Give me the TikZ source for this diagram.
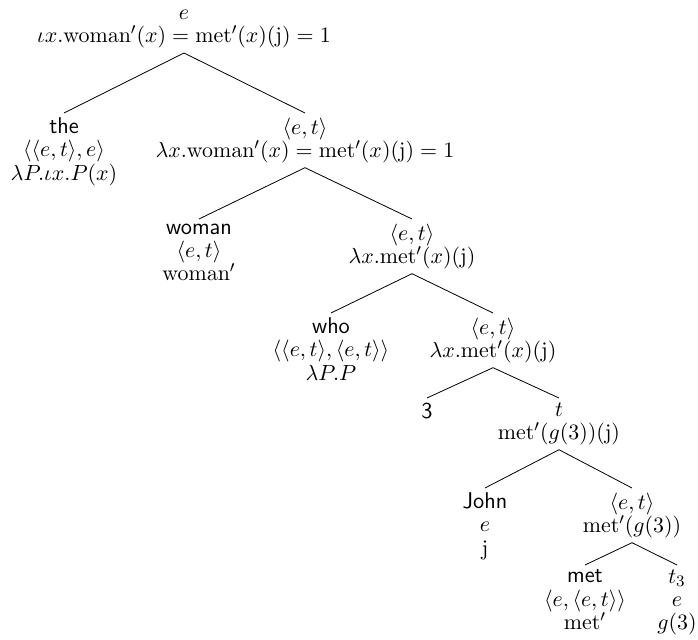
\documentclass[tikz,border=0pt]{standalone}
\usepackage{amsmath}
\usetikzlibrary{positioning}

\begin{document}
\begin{tikzpicture}[
    x=0.5pt, y=-0.5pt,
    tnode/.style={inner sep=2.2pt, align=center, anchor=north, font=\fontsize{11.4}{11.6}\selectfont},
    branch/.style={thin}
]
\useasboundingbox (0,0) rectangle (698,640);

% Root
\node[tnode, anchor=south] (root) at (184,53) {$e$\\$\iota x.\mathrm{woman}'(x)=\mathrm{met}'(x)(\mathrm{j})=1$};

% Level 1: determiner and relative NP
\node[tnode] (the) at (64,113) {\textsf{the}\\$\langle\langle e,t\rangle,e\rangle$\\$\lambda P.\iota x.P(x)$};
\node[tnode] (et1) at (305,113) {$\langle e,t\rangle$\\$\lambda x.\mathrm{woman}'(x)=\mathrm{met}'(x)(\mathrm{j})=1$};

% Level 2: noun and relative clause
\node[tnode] (woman) at (199,219) {\textsf{woman}\\$\langle e,t\rangle$\\$\mathrm{woman}'$};
\node[tnode] (et2) at (412,219) {$\langle e,t\rangle$\\$\lambda x.\mathrm{met}'(x)(\mathrm{j})$};

% Level 3: relative pronoun
\node[tnode] (who) at (331,313) {\textsf{who}\\$\langle\langle e,t\rangle,\langle e,t\rangle\rangle$\\$\lambda P.P$};
\node[tnode] (et3) at (493,313) {$\langle e,t\rangle$\\$\lambda x.\mathrm{met}'(x)(\mathrm{j})$};

% Level 4: index and sentence
\node[tnode] (idx) at (427,398) {\textsf{3}};
\node[tnode] (sent) at (559,398) {$t$\\$\mathrm{met}'(g(3))(\mathrm{j})$};

% Level 5: subject and VP
\node[tnode] (john) at (485,488) {\textsf{John}\\$e$\\$\mathrm{j}$};
\node[tnode] (et5) at (632,488) {$\langle e,t\rangle$\\$\mathrm{met}'(g(3))$};

% Level 6: verb and trace
\node[tnode] (met) at (585,565) {\textsf{met}\\$\langle e,\langle e,t\rangle\rangle$\\$\mathrm{met}'$};
\node[tnode] (trace) at (677,565) {$t_3$\\$e$\\$g(3)$};

% Branches
\draw[branch] (root.south) -- (the.north);
\draw[branch] (root.south) -- (et1.north);
\draw[branch] (et1.south) -- (woman.north);
\draw[branch] (et1.south) -- (et2.north);
\draw[branch] (et2.south) -- (who.north);
\draw[branch] (et2.south) -- (et3.north);
\draw[branch] (et3.south) -- (idx.north);
\draw[branch] (et3.south) -- (sent.north);
\draw[branch] (sent.south) -- (john.north);
\draw[branch] (sent.south) -- (et5.north);
\draw[branch] (et5.south) -- (met.north);
\draw[branch] (et5.south) -- (trace.north);

\end{tikzpicture}
\end{document}
